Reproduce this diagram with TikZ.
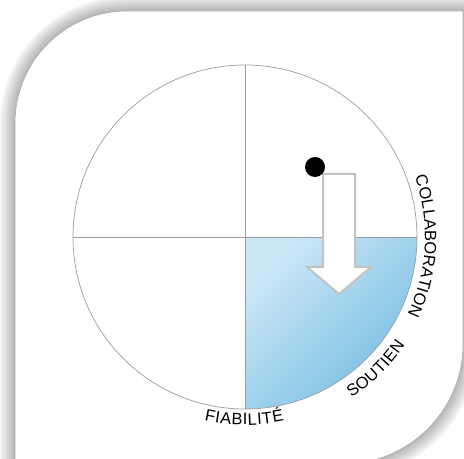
\documentclass[tikz,border=0pt]{standalone}
\usepackage{fontspec}
\newfontfamily\sansfam{Liberation Sans}
\usetikzlibrary{decorations.text}

\definecolor{bleuclair}{HTML}{CBE7F6}
\definecolor{bleufonce}{HTML}{76BDE3}
\definecolor{trait}{HTML}{9C9C9C}
\definecolor{contour}{HTML}{C2C2C2}
\definecolor{bord}{HTML}{A9A9A9}

\begin{document}
\begin{tikzpicture}[x=1bp, y=1bp,
    ombre/.style={draw=black, opacity=0.03, line join=round},
    carte/.style={fill=white, draw=bord, line width=0.6bp},
    trait/.style={draw=trait, line width=0.7bp},
    fleche/.style={draw=contour, line width=2bp, fill=white, line join=miter},
    pastille/.style={circle, fill=black, inner sep=0pt, minimum size=20bp},
    etiquette/.style={decorate, decoration={text along path, text align={fit to path},
        text={|\sansfam\fontsize{16.5bp}{19bp}\selectfont|#1}}}
]
    \useasboundingbox (0,0) rectangle (464,459);

    % card with its soft shadow
    \foreach \w in {3,6,...,30}
        \draw[ombre, line width=\w bp] (15,-5) -- (15,336)
            arc[start angle=180, end angle=90, radius=112] -- (463,448) -- (463,115)
            arc[start angle=0, end angle=-90, radius=120] -- cycle;
    \path[carte] (15,-5) -- (15,336)
        arc[start angle=180, end angle=90, radius=112] -- (463,448) -- (463,115)
        arc[start angle=0, end angle=-90, radius=120] -- (343,-5) -- cycle;

    \coordinate (c) at (245,222);

    % lower right quarter
    \shade[top color=bleuclair, bottom color=bleufonce, shading angle=45]
        (c) -- ([shift={(0:172)}]c) arc[start angle=0, end angle=-90, radius=172] -- cycle;

    \draw[trait] (c) circle[radius=172];
    \draw[trait] ([shift={(180:172)}]c) -- ([shift={(0:172)}]c);
    \draw[trait] ([shift={(90:172)}]c) -- ([shift={(-90:172)}]c);

    % arrow and dot
    \draw[fleche] (323,285) -- (355,285) -- (355,192) -- (371,192) -- (339,165)
        -- (307,192) -- (323,192) -- cycle;
    \node[pastille] (pt) at (315,292) {};

    % labels round the circle
    \path[etiquette=COLLABORATION] ([shift={(19.5:180)}]c) arc[start angle=19.5, end angle=-25.5, radius=180];
    \path[etiquette=SOUTIEN] ([shift={(-56.5:193)}]c) arc[start angle=-56.5, end angle=-34, radius=193];
    \path[etiquette=FIABILITÉ] ([shift={(-102.5:188)}]c) arc[start angle=-102.5, end angle=-78, radius=188];
\end{tikzpicture}
\end{document}
